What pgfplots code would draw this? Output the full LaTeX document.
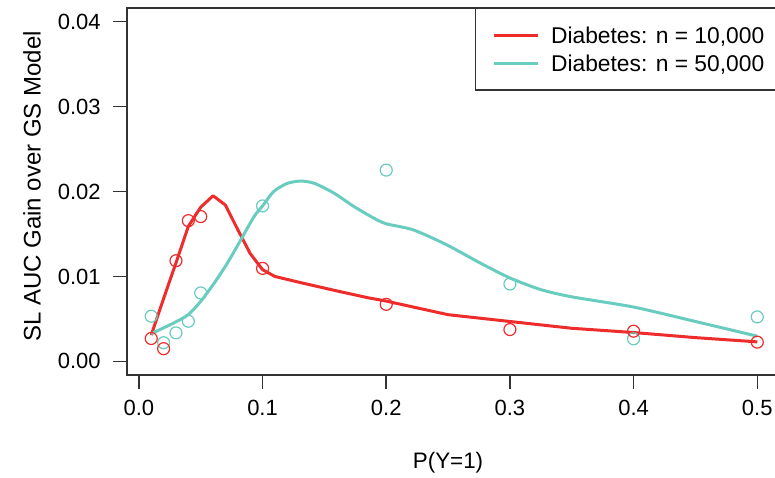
\documentclass[border=0pt]{standalone}
\usepackage{fontspec}
\setmainfont{Liberation Sans}
\usepackage{pgfplots}
\pgfplotsset{compat=1.18}
\definecolor{dred}{RGB}{238,44,44}
\definecolor{dcyan}{RGB}{104,204,190}
\definecolor{frame}{RGB}{51,51,51}

\begin{document}
\begin{tikzpicture}
\useasboundingbox (0,0) rectangle (387.5pt,238.5pt);
\begin{axis}[
	at={(63.5pt,51pt)}, anchor=south west,
	scale only axis, width=327.25pt, height=183.5pt,
	xmin=-0.0096, xmax=0.5196,
	ymin=-0.0016, ymax=0.0416,
	axis line style={draw=frame, line width=0.75pt},
	tick style={draw=frame, line width=0.75pt},
	tick align=outside, major tick length=7pt,
	xtick pos=left, ytick pos=left,
	xtick={0,0.1,0.2,0.3,0.4,0.5},
	ytick={0,0.01,0.02,0.03,0.04},
	scaled x ticks=false, scaled y ticks=false,
	/pgf/number format/assume math mode=true,
	x tick label style={font=\fontsize{11}{13}\selectfont, inner ysep=5.5pt,
		/pgf/number format/fixed, /pgf/number format/fixed zerofill,
		/pgf/number format/precision=1},
	y tick label style={font=\fontsize{11}{13}\selectfont, inner xsep=6pt,
		/pgf/number format/fixed, /pgf/number format/fixed zerofill,
		/pgf/number format/precision=2},
	xlabel={P(Y=1)},
	xlabel style={font=\fontsize{11.2}{13}\selectfont, at={(axis description cs:0.4905,-0.2398)}, anchor=center},
	ylabel={SL AUC Gain over GS Model},
	ylabel style={font=\fontsize{12}{14}\selectfont, at={(axis description cs:-0.1452,0.5136)}, anchor=center},
	legend cell align=left,
	legend style={at={(1,1)}, anchor=north east, draw=frame, line width=0.75pt,
		inner xsep=8.25pt, inner ysep=9pt, row sep=6pt,
		font=\fontsize{11.4}{13}\selectfont,
		nodes={inner sep=0pt, text depth=0pt},
		/tikz/every odd column/.append style={column sep=6pt}},
	legend image code/.code={\draw[#1] (0pt,0pt) -- (22pt,0pt);},
]

% smoothed curves
\addplot[dred, line width=1.5pt, line join=round] coordinates {
	(0.01,0.0031) (0.02,0.0074) (0.03,0.0116) (0.04,0.0159) (0.05,0.01815)
	(0.06,0.0195) (0.07,0.0184) (0.08,0.0155) (0.09,0.0127) (0.10,0.0108)
	(0.11,0.0100) (0.13,0.0093) (0.16,0.0083) (0.185,0.0075) (0.20,0.0071)
	(0.25,0.0055) (0.30,0.0047) (0.35,0.0039) (0.40,0.0034) (0.45,0.0028)
	(0.50,0.0023)
};
\addlegendentry{Diabetes: n = 10,000}

\addplot[dcyan, line width=1.5pt, line join=round, smooth, tension=0.4] coordinates {
	(0.01,0.00325) (0.02,0.00395) (0.03,0.00466) (0.04,0.00551) (0.05,0.00707)
	(0.061,0.00923) (0.0716,0.01158) (0.0824,0.01431) (0.0931,0.01704) (0.10,0.0183)
	(0.109,0.0200) (0.12,0.02096) (0.131,0.02123) (0.142,0.02096) (0.158,0.01979)
	(0.174,0.01822) (0.19,0.01686) (0.20,0.0162) (0.222,0.01548) (0.249,0.01372)
	(0.276,0.01158) (0.30,0.00982) (0.325,0.00845) (0.35,0.0076) (0.40,0.0064)
	(0.45,0.0047) (0.50,0.00297)
};
\addlegendentry{Diabetes: n = 50,000}

% observed points
\addplot[forget plot, only marks, mark=o, mark size=3pt, dcyan, mark options={line width=0.6pt}] coordinates {
	(0.01,0.00532) (0.02,0.0022) (0.03,0.00336) (0.04,0.00473) (0.05,0.00806)
	(0.1,0.0183) (0.2,0.02252) (0.3,0.00911) (0.4,0.00266) (0.5,0.00524)
};
\addplot[forget plot, only marks, mark=o, mark size=3pt, dred, mark options={line width=0.6pt}] coordinates {
	(0.01,0.0027) (0.02,0.0015) (0.03,0.01185) (0.04,0.01657) (0.05,0.01705)
	(0.1,0.01095) (0.2,0.00672) (0.3,0.00375) (0.4,0.00356) (0.5,0.00227)
};

\end{axis}
\end{tikzpicture}
\end{document}
